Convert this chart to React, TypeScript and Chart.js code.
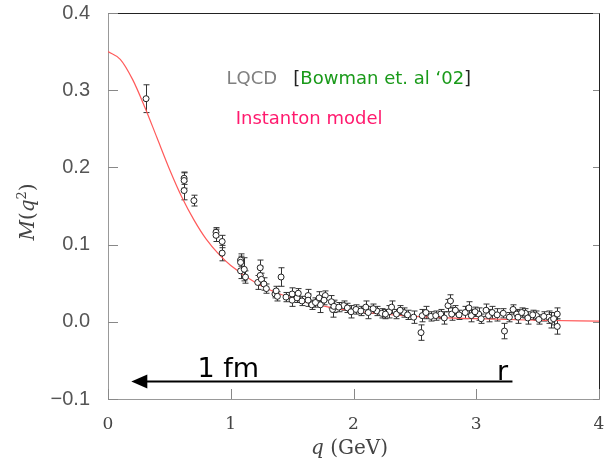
import React, { useEffect, useRef } from "react";
import { Chart, registerables } from "chart.js";
Chart.register(...registerables);

const xTicks = [0, 1, 2, 3, 4];
const yTicks = [-0.1, 0, 0.1, 0.2, 0.3, 0.4];

// LQCD data (Bowman et al. '02)
const lqcdQ = [
  0.31, 0.62, 0.62, 0.62, 0.70, 0.88, 0.88, 0.93, 0.93, 1.08, 1.08, 1.08, 1.11, 1.12,
  1.24, 1.24, 1.22, 1.25, 1.27, 1.29, 1.41, 1.36, 1.37, 1.38, 1.50, 1.50, 1.54, 1.55,
  1.63, 1.63, 1.66, 1.72, 1.73, 1.77, 1.76, 1.82, 1.83, 1.84, 1.92, 1.95, 1.98, 2.02,
  2.10, 2.12, 2.19, 2.23, 2.29, 2.31, 2.35, 2.41, 2.44, 2.55, 2.56, 2.59, 2.63, 2.71,
  2.74, 2.77, 2.79, 2.80, 2.83, 2.91, 2.94, 2.96, 3.02, 3.04, 3.08, 3.10, 3.13, 3.23,
  3.22, 3.30, 3.33, 3.34, 3.40, 3.42, 3.49, 3.51, 3.59, 3.61, 3.66, 3.66,
  1.45, 1.58, 1.69, 1.88, 2.06, 2.16, 2.26, 2.38, 2.49, 2.67, 2.86, 2.99, 3.17, 3.27,
  3.37, 3.46, 3.55, 3.63,
];
const lqcdM = [
  0.289, 0.186, 0.183, 0.170, 0.157, 0.116, 0.112, 0.104, 0.089, 0.080, 0.077, 0.066, 0.068, 0.058,
  0.070, 0.060, 0.051, 0.055, 0.049, 0.043, 0.058, 0.036, 0.040, 0.033, 0.036, 0.028, 0.031, 0.037,
  0.034, 0.028, 0.022, 0.031, 0.022, 0.034, 0.028, 0.026, 0.016, 0.020, 0.021, 0.018, 0.013, 0.016,
  0.019, 0.012, 0.014, 0.011, 0.013, 0.019, 0.010, 0.012, 0.009, -0.014, 0.008, 0.012, 0.007, 0.010,
  0.005, 0.021, 0.027, 0.010, 0.015, 0.012, 0.018, 0.008, 0.010, 0.004, 0.015, 0.008, 0.012, -0.012,
  0.011, 0.016, 0.010, 0.006, 0.011, 0.005, 0.008, 0.003, 0.006, 0.002, 0.010, -0.006,
  0.032, 0.027, 0.025, 0.019, 0.014, 0.017, 0.010, 0.015, 0.006, 0.008, 0.009, 0.013, 0.009, 0.006,
  0.012, 0.009, 0.007, 0.004,
];
const lqcdErr = [
  0.018, 0.008, 0.010, 0.012, 0.007, 0.006, 0.008, 0.008, 0.010, 0.008, 0.008, 0.010, 0.015, 0.008,
  0.010, 0.012, 0.009, 0.008, 0.008, 0.006, 0.012, 0.005, 0.006, 0.006, 0.008, 0.008, 0.006, 0.006,
  0.008, 0.008, 0.006, 0.008, 0.010, 0.006, 0.006, 0.008, 0.010, 0.008, 0.006, 0.006, 0.008, 0.006,
  0.008, 0.008, 0.006, 0.006, 0.008, 0.008, 0.006, 0.006, 0.006, 0.010, 0.008, 0.008, 0.006, 0.006,
  0.008, 0.008, 0.008, 0.008, 0.006, 0.008, 0.008, 0.008, 0.008, 0.006, 0.008, 0.008, 0.008, 0.010,
  0.006, 0.006, 0.006, 0.008, 0.006, 0.008, 0.006, 0.006, 0.008, 0.010, 0.008, 0.010,
  0.006, 0.006, 0.006, 0.006, 0.006, 0.006, 0.006, 0.006, 0.008, 0.006, 0.006, 0.006, 0.008, 0.006,
  0.006, 0.006, 0.006, 0.008,
];

// Instanton model curve
const modelQ = [0, 0.1, 0.2, 0.3, 0.4, 0.5, 0.6, 0.7, 0.8, 0.9, 1.0, 1.2, 1.4, 1.6, 1.8, 2.0, 2.5, 3.0, 3.5, 4.0];
const modelM = [0.35, 0.34, 0.314, 0.278, 0.238, 0.198, 0.162, 0.132, 0.107, 0.088, 0.073, 0.051, 0.036, 0.026, 0.019, 0.014, 0.007, 0.004, 0.002, 0.001];

// annotation arrow (data coords)
const arrowQ = [0.19, 3.295];
const arrowM = -0.0773;

export default function App() {
  const ref = useRef<HTMLCanvasElement>(null);
  useEffect(() => {
    document.body.style.margin = "0";
    const canvas = ref.current!;

    const errorBars = {
      id: "errorBars",
      beforeDatasetsDraw(chart: any) {
        const { ctx, scales } = chart;
        const xs = scales.x, ys = scales.y;
        ctx.save();
        ctx.strokeStyle = "#333";
        ctx.lineWidth = 1;
        for (let i = 0; i < lqcdQ.length; i++) {
          const px = Math.round(xs.getPixelForValue(lqcdQ[i])) + 0.5;
          const y1 = ys.getPixelForValue(lqcdM[i] + lqcdErr[i]);
          const y2 = ys.getPixelForValue(lqcdM[i] - lqcdErr[i]);
          ctx.beginPath();
          ctx.moveTo(px, y1);
          ctx.lineTo(px, y2);
          ctx.moveTo(px - 3, y1);
          ctx.lineTo(px + 3, y1);
          ctx.moveTo(px - 3, y2);
          ctx.lineTo(px + 3, y2);
          ctx.stroke();
        }
        ctx.restore();
      },
    };

    const decor = {
      id: "decor",
      afterDraw(chart: any) {
        const { ctx, scales, chartArea } = chart;
        const xs = scales.x, ys = scales.y;
        const { left, right, top, bottom } = chartArea;
        ctx.save();
        // frame top / right
        ctx.strokeStyle = "#222";
        ctx.lineWidth = 1;
        ctx.beginPath();
        ctx.moveTo(left, top + 0.5);
        ctx.lineTo(right + 0.5, top + 0.5);
        ctx.lineTo(right + 0.5, bottom);
        ctx.stroke();
        // inward ticks
        ctx.strokeStyle = "#888";
        ctx.beginPath();
        for (const v of yTicks) {
          const py = Math.round(ys.getPixelForValue(v)) + 0.5;
          ctx.moveTo(left, py);
          ctx.lineTo(left + 10, py);
          ctx.moveTo(right, py);
          ctx.lineTo(right - 6, py);
        }
        for (const v of xTicks) {
          const px = Math.round(xs.getPixelForValue(v)) + 0.5;
          ctx.moveTo(px, bottom);
          ctx.lineTo(px, bottom - 10);
        }
        ctx.stroke();

        // arrow
        const ax1 = xs.getPixelForValue(arrowQ[0]);
        const ax2 = xs.getPixelForValue(arrowQ[1]);
        const ay = ys.getPixelForValue(arrowM);
        ctx.strokeStyle = "#000";
        ctx.fillStyle = "#000";
        ctx.lineWidth = 2;
        ctx.beginPath();
        ctx.moveTo(ax1 + 10, ay);
        ctx.lineTo(ax2, ay);
        ctx.stroke();
        ctx.beginPath();
        ctx.moveTo(ax1, ay);
        ctx.lineTo(ax1 + 16, ay - 7);
        ctx.lineTo(ax1 + 16, ay + 7);
        ctx.closePath();
        ctx.fill();

        ctx.textBaseline = "alphabetic";
        ctx.textAlign = "left";
        ctx.font = "27px 'DejaVu Sans'";
        ctx.fillText("1 fm", xs.getPixelForValue(0.73), ys.getPixelForValue(-0.071));
        ctx.fillText("r", xs.getPixelForValue(3.17), ys.getPixelForValue(-0.0755));

        // legend texts
        ctx.font = "18px 'DejaVu Sans'";
        ctx.fillStyle = "#808080";
        ctx.fillText("LQCD", xs.getPixelForValue(0.965), ys.getPixelForValue(0.308));
        let bx = xs.getPixelForValue(1.51);
        const by = ys.getPixelForValue(0.308);
        ctx.fillStyle = "#222";
        ctx.fillText("[", bx, by);
        bx += ctx.measureText("[").width;
        ctx.fillStyle = "#1a9a1a";
        const bw = "Bowman et. al \u201802";
        ctx.fillText(bw, bx, by);
        bx += ctx.measureText(bw).width;
        ctx.fillStyle = "#222";
        ctx.fillText("]", bx, by);
        ctx.fillStyle = "#ff1a6e";
        ctx.fillText("Instanton model", xs.getPixelForValue(1.04), ys.getPixelForValue(0.256));

        // axis titles
        ctx.fillStyle = "#444";
        const xtY = 454;
        ctx.font = "italic 20px 'DejaVu Serif'";
        const qW = ctx.measureText("q").width;
        ctx.font = "20px 'DejaVu Serif'";
        const restW = ctx.measureText(" (GeV)").width;
        const cx = (left + right) / 2 - 4;
        let sx = cx - (qW + restW) / 2;
        ctx.font = "italic 20px 'DejaVu Serif'";
        ctx.fillText("q", sx, xtY);
        ctx.font = "20px 'DejaVu Serif'";
        ctx.fillText(" (GeV)", sx + qW, xtY);

        ctx.save();
        ctx.translate(34, 212);
        ctx.rotate(-Math.PI / 2);
        const parts: [string, string][] = [
          ["M", "italic 20px 'DejaVu Serif'"],
          ["(", "20px 'DejaVu Serif'"],
          ["q", "italic 20px 'DejaVu Serif'"],
          ["2", "13px 'DejaVu Serif'"],
          [")", "20px 'DejaVu Serif'"],
        ];
        let tw = 0;
        for (const [t, f] of parts) { ctx.font = f; tw += ctx.measureText(t).width; }
        let px = -tw / 2;
        for (const [t, f] of parts) {
          ctx.font = f;
          ctx.fillText(t, px, t === "2" ? -8 : 0);
          px += ctx.measureText(t).width;
        }
        ctx.restore();
        ctx.restore();
      },
    };

    const chart = new Chart(canvas, {
      type: "scatter",
      data: {
        datasets: [
          {
            label: "Instanton model",
            data: modelQ.map((q, i) => ({ x: q, y: modelM[i] })),
            showLine: true,
            borderColor: "#ff5a5a",
            borderWidth: 1.2,
            pointRadius: 0,
            cubicInterpolationMode: "monotone",
            order: 2,
          } as any,
          {
            label: "LQCD",
            data: lqcdQ.map((q, i) => ({ x: q, y: lqcdM[i] })),
            pointStyle: "circle",
            pointRadius: 3,
            borderWidth: 1,
            borderColor: "#222",
            backgroundColor: "#fff",
            order: 1,
          },
        ],
      },
      options: {
        responsive: false,
        animation: false,
        layout: { padding: { top: 13, right: 15, left: 0, bottom: 0 } },
        plugins: { legend: { display: false }, tooltip: { enabled: false } },
        scales: {
          x: {
            type: "linear",
            min: 0,
            max: 4,
            afterBuildTicks: (s: any) => { s.ticks = xTicks.map((v) => ({ value: v })); },
            afterFit: (s: any) => { s.height = 62; s.paddingLeft = 0; s.paddingRight = 0; },
            grid: { display: false, drawTicks: false },
            border: { display: true, color: "#999", width: 1 },
            ticks: {
              padding: 15,
              color: "#444",
              font: { family: "'DejaVu Serif'", size: 17 },
              callback: (v: any) => String(v),
            },
          },
          y: {
            type: "linear",
            min: -0.1,
            max: 0.4,
            afterBuildTicks: (s: any) => { s.ticks = yTicks.map((v) => ({ value: v })); },
            afterFit: (s: any) => { s.width = 108; s.paddingTop = 0; s.paddingBottom = 0; },
            grid: { display: false, drawTicks: false },
            border: { display: true, color: "#999", width: 1 },
            ticks: {
              padding: 18,
              color: "#555",
              font: { family: "'Liberation Sans'", size: 20 },
              callback: (v: any) => (v < 0 ? "\u2212" + Math.abs(v).toFixed(1) : Number(v).toFixed(1)),
            },
          },
        },
      },
      plugins: [errorBars, decor],
    });
    return () => chart.destroy();
  }, []);
  return <canvas ref={ref} width={614} height={461} style={{ display: "block" }} />;
}
